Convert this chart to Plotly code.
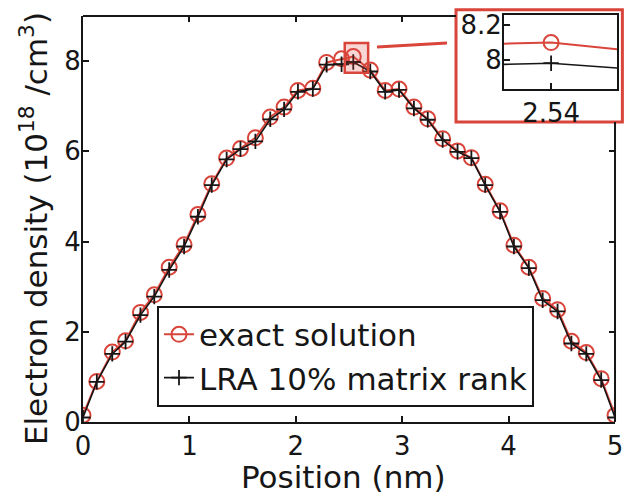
import plotly.graph_objects as go

# ---- data ----
position = [0, 0.13, 0.275, 0.40, 0.54, 0.67, 0.81, 0.95, 1.08, 1.21,
            1.35, 1.48, 1.62, 1.76, 1.89, 2.02, 2.16, 2.29, 2.43, 2.54,
            2.70, 2.84, 2.97, 3.11, 3.24, 3.38, 3.52, 3.65, 3.78, 3.92,
            4.05, 4.19, 4.32, 4.46, 4.59, 4.73, 4.87, 5.0]
exact_solution = [0.15, 0.90, 1.55, 1.80, 2.43, 2.82, 3.43, 3.93, 4.60, 5.28,
                  5.85, 6.06, 6.30, 6.76, 6.98, 7.35, 7.40, 7.97, 8.05, 8.10,
                  7.80, 7.35, 7.38, 6.98, 6.72, 6.28, 6.01, 5.86, 5.27, 4.68,
                  3.92, 3.43, 2.74, 2.49, 1.79, 1.54, 0.96, 0.15]
lra_10pct = [0.10, 0.89, 1.51, 1.78, 2.37, 2.78, 3.37, 3.89, 4.55, 5.25,
             5.82, 6.05, 6.22, 6.71, 6.93, 7.32, 7.38, 7.92, 7.93, 7.98,
             7.77, 7.32, 7.36, 6.95, 6.70, 6.25, 5.99, 5.85, 5.25, 4.66,
             3.89, 3.41, 2.70, 2.45, 1.74, 1.51, 0.93, 0.10]
series_names = ["exact solution", "LRA 10% matrix rank"]
x_title = "Position (nm)"
y_title = "Electron density (10<sup>18</sup> /cm<sup>3</sup>)"
x_ticks = [0, 1, 2, 3, 4, 5]
y_ticks = [0, 2, 4, 6, 8]
inset_x_ticks = [2.54]
inset_x_ticktext = ["2.54"]
inset_y_ticks = [8, 8.2]
inset_y_ticktext = ["8", "8.2"]

RED = "#d9453b"
BLK = "#161616"
FONT = "DejaVu Sans"

fig = go.Figure()

# main traces
fig.add_trace(go.Scatter(x=position, y=exact_solution, name=series_names[0],
                         mode="lines+markers",
                         line=dict(color=RED, width=2),
                         marker=dict(symbol="circle-open", size=15, color=RED,
                                     line=dict(width=2, color=RED))))
fig.add_trace(go.Scatter(x=position, y=lra_10pct, name=series_names[1],
                         mode="lines+markers",
                         line=dict(color=BLK, width=1.6),
                         marker=dict(symbol="cross-thin-open", size=11, color=BLK,
                                     line=dict(width=1.8, color=BLK))))
# inset traces
fig.add_trace(go.Scatter(x=position, y=exact_solution, xaxis="x2", yaxis="y2",
                         mode="lines+markers", showlegend=False,
                         line=dict(color=RED, width=2),
                         marker=dict(symbol="circle-open", size=15, color=RED,
                                     line=dict(width=2, color=RED))))
fig.add_trace(go.Scatter(x=position, y=lra_10pct, xaxis="x2", yaxis="y2",
                         mode="lines+markers", showlegend=False,
                         line=dict(color=BLK, width=1.6),
                         marker=dict(symbol="cross-thin-open", size=11, color=BLK,
                                     line=dict(width=1.8, color=BLK))))
# helper trace so the mirrored top/right tick axes are drawn
fig.add_trace(go.Scatter(x=[None], y=[None], xaxis="x3", yaxis="y3",
                         showlegend=False, hoverinfo="skip"))

XD = [0, 0.9834]
YD = [0, 0.9807]
axis_common = dict(showgrid=False, zeroline=False, showline=True, linewidth=2,
                   linecolor=BLK, ticks="inside", ticklen=6, tickwidth=2,
                   tickcolor=BLK, automargin=False,
                   tickfont=dict(family=FONT, size=26, color=BLK))

fig.update_layout(
    width=617, height=487,
    margin=dict(l=75, r=1, t=0, b=73, autoexpand=False),
    paper_bgcolor="white", plot_bgcolor="rgba(0,0,0,0)",
    font=dict(family=FONT, color=BLK),
    xaxis=dict(domain=XD, range=[0, 5], tickvals=x_ticks, anchor="y",
               ticklabelstandoff=0, **axis_common),
    yaxis=dict(domain=YD, range=[0, 9], tickvals=y_ticks, anchor="x",
               ticklabelstandoff=-5, **axis_common),
    xaxis3=dict(domain=XD, range=[0, 5], tickvals=[1, 2, 3], overlaying="x", side="top",
                anchor="y3", showgrid=False, zeroline=False, showline=False,
                ticks="inside", ticklen=6, tickwidth=2, tickcolor=BLK,
                showticklabels=False, automargin=False),
    yaxis3=dict(domain=YD, range=[0, 9], tickvals=[2, 4, 6], overlaying="y", side="right",
                anchor="x3", showgrid=False, zeroline=False, showline=False,
                ticks="inside", ticklen=6, tickwidth=2, tickcolor=BLK,
                showticklabels=False, automargin=False),
    xaxis2=dict(domain=[0.7782, 0.9871], range=[2.525, 2.561], anchor="y2",
                tickvals=inset_x_ticks, ticktext=inset_x_ticktext, mirror=True,
                **axis_common),
    yaxis2=dict(domain=[0.8043, 0.9831], range=[7.83, 8.26], anchor="x2",
                tickvals=inset_y_ticks, ticktext=inset_y_ticktext, mirror=True,
                ticklabelstandoff=-5,
                **axis_common),
    legend=dict(x=0.1368, y=0.281, xanchor="left", yanchor="top",
                bgcolor="white", bordercolor=BLK, borderwidth=2,
                font=dict(family=FONT, size=31, color=BLK),
                itemwidth=30, tracegroupgap=0),
    annotations=[
        dict(text=y_title, textangle=-90, xref="paper", yref="paper",
             x=-0.0905, y=0.466, xanchor="center", yanchor="middle", showarrow=False,
             font=dict(family=FONT, size=31, color=BLK)),
        dict(text=x_title, xref="paper", yref="paper",
             x=0.4815, y=-0.1329, xanchor="center", yanchor="middle", showarrow=False,
             font=dict(family=FONT, size=31, color=BLK)),
    ],
    shapes=[
        # top & right frame lines of the main axes (interrupted by inset)
        dict(type="line", xref="paper", yref="paper", x0=0, x1=0.6895, y0=YD[1], y1=YD[1],
             line=dict(color=BLK, width=2)),
        dict(type="line", xref="paper", yref="paper", x0=XD[1], x1=XD[1], y0=0, y1=0.7246,
             line=dict(color=BLK, width=2)),
        # inset frame (red)
        dict(type="rect", xref="paper", yref="paper", x0=0.6895, x1=0.997, y0=0.7246, y1=0.996,
             line=dict(color=RED, width=3), fillcolor="white", layer="below"),
        # zoom marker around the peak
        dict(type="rect", xref="x", yref="y", x0=2.46, x1=2.68, y0=7.74, y1=8.40,
             line=dict(color=RED, width=2.5), fillcolor="rgba(217,69,59,0.22)", layer="above"),
        # connector line
        dict(type="line", xref="paper", yref="paper", x0=0.5434, x1=0.6728, y0=0.9058, y1=0.9155,
             line=dict(color=RED, width=3)),
    ],
)

fig.write_html("out.html")
